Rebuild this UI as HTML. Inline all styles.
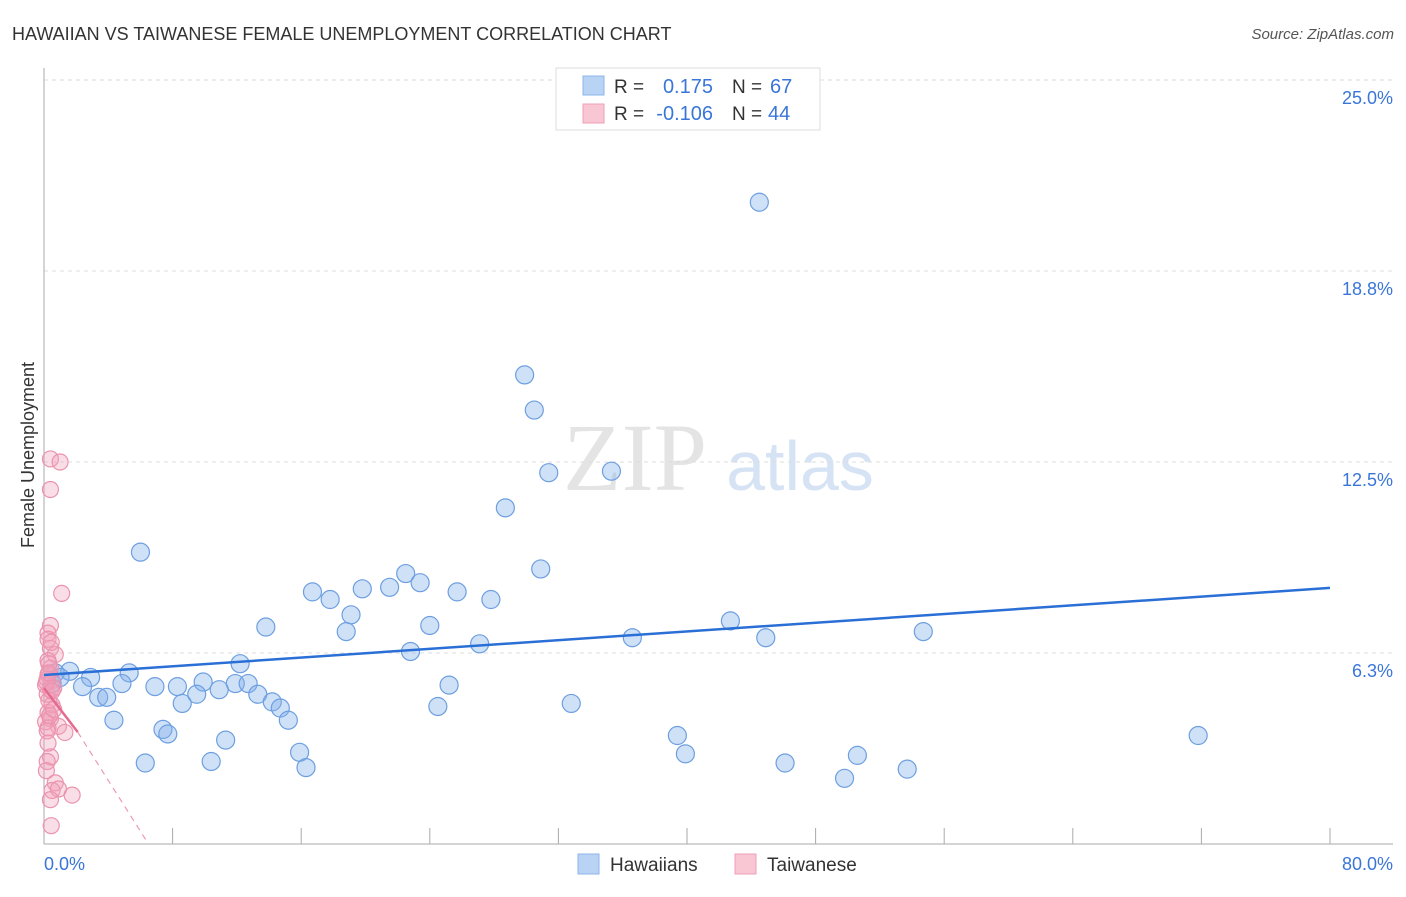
<!DOCTYPE html>
<html><head><meta charset="utf-8"><style>
body{margin:0;background:#fff;font-family:"Liberation Sans",sans-serif;}
</style></head><body>
<svg width="1406" height="892" xmlns="http://www.w3.org/2000/svg" style="font-family:'Liberation Sans',sans-serif">
<text x="12" y="40" font-size="18" fill="#333">HAWAIIAN VS TAIWANESE FEMALE UNEMPLOYMENT CORRELATION CHART</text>
<text x="1394" y="39" font-size="15" fill="#555" font-style="italic" text-anchor="end">Source: ZipAtlas.com</text>
<g>
<text x="635" y="490" font-size="96" fill="#e4e4e4" text-anchor="middle" font-family="Liberation Serif,serif">ZIP</text>
<text x="800" y="490" font-size="70" fill="#d6e3f5" text-anchor="middle">atlas</text>
</g>
<g id="grid"></g>
<g id="axes"></g>
<text transform="translate(34,455) rotate(-90)" font-size="18" fill="#333" text-anchor="middle">Female Unemployment</text>
<g id="pts"></g>
<g id="lines"></g>
<g>
<rect x="556" y="68" width="264" height="62" fill="#fff" stroke="#ddd"/>
<rect x="583" y="76" width="21" height="19" fill="#b9d3f5" stroke="#8db5ea"/>
<rect x="583" y="104" width="21" height="19" fill="#f9c6d4" stroke="#ee9fb7"/>
<text x="614" y="93" font-size="19" fill="#333">R = </text><text x="713" y="93" font-size="20" fill="#3a76d8" text-anchor="end">0.175</text>
<text x="732" y="93" font-size="19" fill="#333">N = </text><text x="770" y="93" font-size="20" fill="#3a76d8">67</text>
<text x="614" y="120" font-size="19" fill="#333">R = </text><text x="713" y="120" font-size="20" fill="#3a76d8" text-anchor="end">-0.106</text>
<text x="732" y="120" font-size="19" fill="#333">N = </text><text x="768" y="120" font-size="20" fill="#3a76d8">44</text>
</g>
<g>
<rect x="578" y="854" width="21" height="20" fill="#b9d3f5" stroke="#8db5ea"/>
<text x="610" y="871" font-size="19" fill="#333">Hawaiians</text>
<rect x="735" y="854" width="21" height="20" fill="#f9c6d4" stroke="#ee9fb7"/>
<text x="767" y="871" font-size="19" fill="#333">Taiwanese</text>
</g>
</svg>
<script>
const xTickLabels=["0.0%","80.0%"];
const yTicks=[6.25,12.5,18.75,25];
const yTickLabels=["6.3%","12.5%","18.8%","25.0%"];
const hawX=[44.5,29.9,30.5,31.4,35.3,28.7,6.0,30.9,22.5,23.4,21.5,19.8,16.7,25.7,17.8,27.8,19.1,13.8,24.0,18.8,42.7,36.6,44.9,54.7,27.1,22.8,12.2,5.3,1.6,0.7,1.0,0.5,2.9,2.4,4.85,6.9,8.3,9.9,11.9,12.7,10.9,9.5,13.3,3.4,3.9,25.2,8.6,14.2,14.7,24.5,32.8,15.2,4.35,7.4,7.7,11.3,39.4,71.8,15.9,39.9,50.6,6.3,10.4,16.3,46.1,53.7,49.8];
const hawY=[21.0,15.35,14.2,12.15,12.2,11.0,9.55,9.0,8.85,8.55,8.4,8.35,8.25,8.25,8.0,8.0,7.5,7.1,7.15,6.95,7.3,6.75,6.75,6.95,6.55,6.3,5.9,5.6,5.65,5.6,5.45,5.25,5.45,5.15,5.25,5.15,5.15,5.3,5.25,5.25,5.05,4.9,4.9,4.8,4.8,5.2,4.6,4.65,4.45,4.5,4.6,4.05,4.05,3.75,3.6,3.4,3.55,3.55,3.0,2.95,2.9,2.65,2.7,2.5,2.65,2.45,2.15];
const taiX=[0.4,1.0,0.4,1.1,0.4,0.25,0.25,0.4,0.7,0.25,0.4,0.25,0.5,0.1,0.4,0.2,0.5,0.25,0.4,0.1,0.9,1.3,0.25,0.4,0.2,0.7,0.5,0.9,0.4,1.75,0.45,0.3,0.2,0.6,0.3,0.15,0.5,0.35,0.2,0.6,0.3,0.45,0.25,0.15];
const taiY=[12.6,12.5,11.6,8.2,7.15,6.9,6.7,6.4,6.2,6.0,5.75,5.55,5.35,5.2,5.05,4.9,4.55,4.3,4.1,4.0,3.85,3.65,3.8,2.85,2.7,2.0,1.75,1.8,1.45,1.6,0.6,5.9,5.4,5.1,4.7,5.3,5.0,4.2,3.7,4.4,5.6,6.6,3.3,2.4];
const hawTrendX=[0,80], hawTrendY=[5.53,8.38];
const taiTrendX=[0,2.1], taiTrendY=[5.1,3.66];
const taiDashX=[2.1,6.5], taiDashY=[3.66,0];
const X=v=>44+v*16.075, Y=v=>844-v*30.56;
const NS="http://www.w3.org/2000/svg";
function mk(p,t,a){const e=document.createElementNS(NS,t);for(const k in a)e.setAttribute(k,a[k]);p.appendChild(e);return e;}
const grid=document.getElementById('grid'),axes=document.getElementById('axes'),pts=document.getElementById('pts'),lines=document.getElementById('lines');
yTicks.forEach((v,i)=>{
 const l=mk(grid,'line',{x1:44,x2:1393,y1:Y(v),y2:Y(v),stroke:'#ddd','stroke-dasharray':'4,4'});
 
 
 const t=mk(grid,'text',{x:1393,y:Y(v)+24,'font-size':18,fill:'#3a76d8','text-anchor':'end'});
 t.textContent=yTickLabels[i];
 
 
});
let a=mk(axes,'line',{x1:44,x2:44,y1:68,y2:844,stroke:'#aaa'});


a=mk(axes,'line',{x1:44,x2:1393,y1:844,y2:844,stroke:'#aaa'});


for(let i=1;i<=10;i++){const tk=mk(axes,'line',{x1:X(i*8),x2:X(i*8),y1:828,y2:844,stroke:'#aaa'});
 
 }
[[0,'start',44],[80,'end',1393]].forEach((d,i)=>{const t=mk(axes,'text',{x:d[2],y:870,'font-size':18,fill:'#3a76d8','text-anchor':d[1]});t.textContent=xTickLabels[i];
 
 });
hawX.forEach((v,i)=>{const c=mk(pts,'circle',{cx:X(v),cy:Y(hawY[i]),r:9,fill:'rgba(130,175,235,0.38)',stroke:'#6d9fe0','stroke-width':1.2});
 
 });
taiX.forEach((v,i)=>{const c=mk(pts,'circle',{cx:X(v),cy:Y(taiY[i]),r:8,fill:'rgba(242,160,185,0.35)',stroke:'#eb93ae','stroke-width':1.2});
 
 });
let ln=mk(lines,'line',{x1:X(hawTrendX[0]),y1:Y(hawTrendY[0]),x2:X(hawTrendX[1]),y2:Y(hawTrendY[1]),stroke:'#2a6fd6','stroke-width':2.5});


ln=mk(lines,'line',{x1:X(taiTrendX[0]),y1:Y(taiTrendY[0]),x2:X(taiTrendX[1]),y2:Y(taiTrendY[1]),stroke:'#e56a90','stroke-width':2.5});


ln=mk(lines,'line',{x1:X(taiDashX[0]),y1:Y(taiDashY[0]),x2:X(taiDashX[1]),y2:Y(taiDashY[1]),stroke:'#eb9ab2','stroke-width':1.2,'stroke-dasharray':'6,5'});


</script>
</body></html>
